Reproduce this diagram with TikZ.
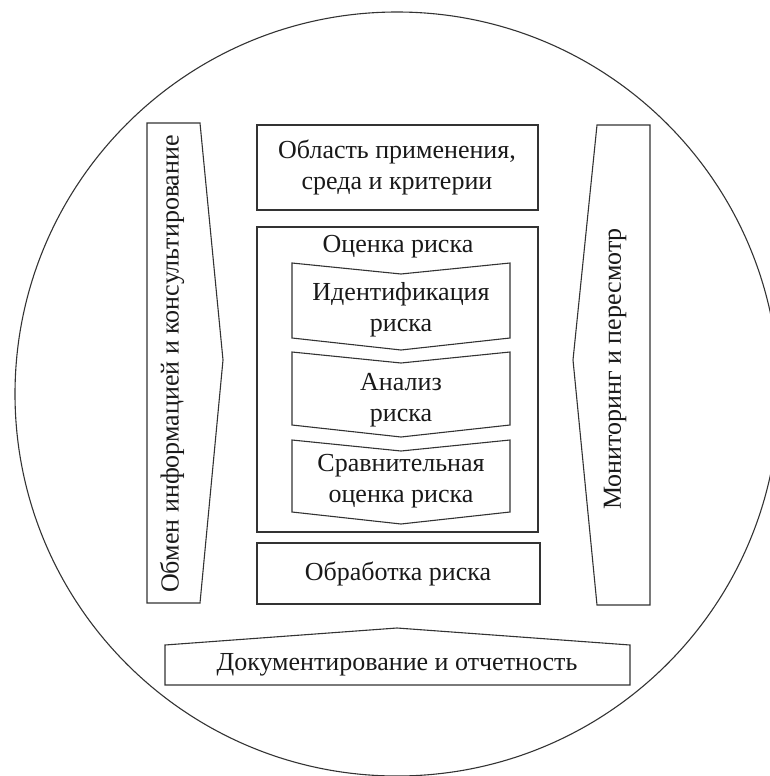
\documentclass[tikz,border=0pt]{standalone}
\usepackage{fontspec}
\setmainfont{Liberation Serif}
\begin{document}
\begin{tikzpicture}[x=1pt,y=-1pt,
  shp/.style={draw=black!80,line width=1.1pt,line join=miter},
  lbl/.style={font=\fontsize{26}{31}\selectfont,align=center,text=black!90,inner sep=0pt}]
\useasboundingbox (0,0) rectangle (770,776);
\clip (0,0) rectangle (770,776);
\draw[shp] (397,394) circle[radius=382];
% left arrow box
\draw[shp] (147,123) -- (200,123) -- (223,360) -- (200,603) -- (147,603) -- cycle;
% right arrow box
\draw[shp] (597,125) -- (650,125) -- (650,605) -- (597,605) -- (573,360) -- cycle;
% top box
\draw[shp] (257,125) rectangle (538,210);
% assessment box
\draw[shp] (257,227) rectangle (538,532);
% chevrons
\draw[shp] (292,263) -- (401,274) -- (510,263) -- (510,338) -- (401,350) -- (292,338) -- cycle;
\draw[shp] (292,352) -- (401,363) -- (510,352) -- (510,425) -- (401,437) -- (292,425) -- cycle;
\draw[shp] (292,440) -- (401,451) -- (510,440) -- (510,512) -- (401,524) -- (292,512) -- cycle;
% treatment box
\draw[shp] (257,543) rectangle (540,604);
% documentation
\draw[shp] (165,645) -- (397,628) -- (630,645) -- (630,685) -- (165,685) -- cycle;
% labels
\node[lbl,rotate=90] (comm) at (172,364) {Обмен информацией и консультирование};
\node[lbl,rotate=90] (mon) at (615,369) {Мониторинг и пересмотр};
\node[lbl] (scope) at (397,167) {Область применения,\\среда и критерии};
\node[lbl] (assess) at (398,247) {Оценка риска};
\node[lbl] (ident) at (401,310) {Идентификация\\риска};
\node[lbl] (anal) at (401,400) {Анализ\\риска};
\node[lbl] (eval) at (401,481) {Сравнительная\\оценка риска};
\node[lbl] (treat) at (398,574) {Обработка риска};
\node[lbl] (doc) at (397,665) {Документирование и отчетность};
\end{tikzpicture}
\end{document}
